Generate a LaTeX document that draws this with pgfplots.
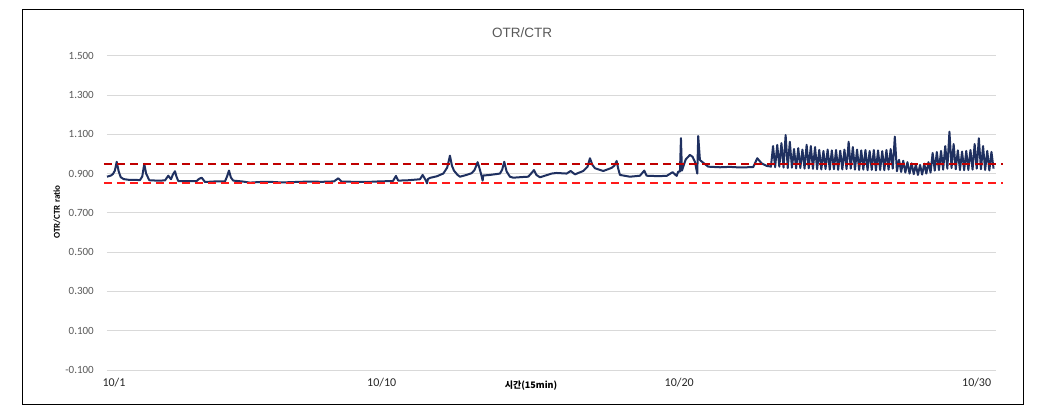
\documentclass[border=0pt]{standalone}
\usepackage{pgfplots}
\pgfplotsset{compat=1.18}
\usepackage{fontspec}
\setmainfont{Carlito}
\newfontfamily\titlefont{Liberation Sans}
\newfontfamily\kr{Noto Sans CJK KR}
\definecolor{navy}{HTML}{1F3060}
\definecolor{lbl}{HTML}{595959}
\definecolor{grid}{HTML}{D9D9D9}
\definecolor{dred}{HTML}{C00000}
\definecolor{bred}{HTML}{FF1A1A}
\begin{document}
\begin{tikzpicture}
\useasboundingbox (0pt,0pt) rectangle (1045pt,415pt);
\fill[white] (0pt,0pt) rectangle (1045pt,415pt);
\begin{axis}[
  at={(107pt,45pt)}, anchor=south west,
  scale only axis, width=889pt, height=314.3pt,
  xmin=-0.235, xmax=29.65, ymin=-0.1, ymax=1.5,
  clip=false,
  axis line style={draw=none},
  tick style={draw=none},
  ymajorgrids, major grid style={draw=grid, line width=0.9pt},
  ytick={-0.1,0.1,0.3,0.5,0.7,0.9,1.1,1.3,1.5},
  /pgf/number format/assume math mode=true,
  yticklabel={\pgfmathprintnumber[fixed,fixed zerofill,precision=3]{\tick}},
  yticklabel style={anchor=east, inner sep=0pt, xshift=-13pt, font=\fontsize{11}{11}\selectfont, text=lbl},
  xtick={0,9,19,29}, xticklabels={10/1,10/10,10/20,10/30},
  xticklabel style={anchor=center, inner sep=0pt, yshift=-12.5pt, font=\fontsize{12}{12}\selectfont, text=black!85},
]
\addplot[navy, line width=2pt, line join=round] coordinates {
(-0.235,0.884) (-0.1,0.890) (-0.034,0.898) (0.03,0.915) (0.091,0.960) (0.16,0.910) (0.225,0.882) (0.32,0.872) (0.5,0.868) (0.874,0.867)
(0.95,0.885) (1.018,0.949) (1.08,0.900) (1.187,0.866) (1.45,0.864) (1.714,0.865) (1.825,0.889) (1.916,0.871)
(1.98,0.895) (2.050,0.912) (2.1,0.885) (2.161,0.862) (2.5,0.861) (2.780,0.862) (2.86,0.873) (2.948,0.879) (3.059,0.857)
(3.4,0.860) (3.731,0.860) (3.80,0.885) (3.866,0.915) (3.93,0.880) (4.010,0.864) (4.3,0.860) (4.571,0.854)
(4.9,0.857) (5.244,0.858) (5.6,0.855) (5.916,0.856) (6.25,0.858) (6.588,0.859)
(7.0,0.858) (7.395,0.860) (7.540,0.876) (7.654,0.859) (8.1,0.858) (8.494,0.857)
(8.9,0.860) (9.378,0.862) (9.479,0.888) (9.556,0.864) (9.9,0.866) (10.286,0.871)
(10.376,0.893) (10.487,0.864) (10.521,0.850) (10.555,0.872) (10.622,0.878)
(10.85,0.886) (11.069,0.900) (11.2,0.930) (11.294,0.991) (11.36,0.940) (11.429,0.915) (11.55,0.893) (11.630,0.884)
(11.85,0.893) (12.024,0.902) (12.12,0.918) (12.225,0.958) (12.29,0.925) (12.336,0.900) (12.393,0.864)
(12.413,0.890) (12.639,0.893) (12.975,0.900) (13.05,0.920) (13.119,0.960) (13.2,0.910) (13.311,0.884)
(13.422,0.879) (13.7,0.882) (13.926,0.884) (14.05,0.905) (14.118,0.918) (14.2,0.893) (14.319,0.881)
(14.713,0.900) (14.881,0.903) (15.217,0.900) (15.351,0.913) (15.496,0.896)
(15.775,0.913) (15.92,0.935) (16.000,0.978) (16.08,0.945) (16.168,0.927) (16.447,0.913) (16.729,0.929)
(16.82,0.940) (16.897,0.964) (16.95,0.925) (17.008,0.893) (17.345,0.884) (17.681,0.889) (17.825,0.915)
(17.906,0.889) (18.25,0.887) (18.578,0.888) (18.780,0.907) (18.914,0.888)
(18.968,0.910) (19.025,0.910) (19.059,1.080) (19.092,0.915) (19.136,0.935)
(19.22,0.972) (19.361,0.995) (19.45,0.985) (19.529,0.960) (19.607,0.900) (19.640,1.091) (19.697,0.969)
(19.808,0.955) (19.976,0.935) (20.370,0.932) (20.706,0.934) (21.042,0.931)
(21.489,0.933) (21.624,0.978) (21.771,0.952) (21.939,0.939) (22.027,0.937)
(22.084,0.935) (22.155,1.040) (22.225,0.932) (22.296,1.046) (22.366,0.935)
(22.437,1.055) (22.508,0.930) (22.578,1.096) (22.649,0.928) (22.719,1.062)
(22.790,0.930) (22.861,1.025) (22.931,0.926) (23.002,1.029) (23.072,0.928)
(23.143,1.022) (23.214,0.925) (23.284,1.046) (23.355,0.927) (23.425,1.040)
(23.496,0.924) (23.567,1.035) (23.637,0.922) (23.708,1.020) (23.778,0.921)
(23.849,1.015) (23.920,0.923) (23.990,1.022) (24.061,0.920) (24.131,1.018)
(24.202,0.922) (24.273,1.020) (24.343,0.919) (24.414,1.016) (24.484,0.921)
(24.555,1.022) (24.626,0.923) (24.696,1.062) (24.767,0.925) (24.837,1.035)
(24.908,0.920) (24.979,1.022) (25.049,0.918) (25.120,1.018) (25.190,0.920)
(25.261,1.020) (25.332,0.917) (25.402,1.015) (25.473,0.919) (25.543,1.020)
(25.614,0.916) (25.685,1.018) (25.755,0.918) (25.826,1.014) (25.896,0.917)
(25.967,1.020) (26.038,0.920) (26.108,1.025) (26.179,0.925) (26.249,1.088)
(26.320,0.912) (26.391,0.970) (26.461,0.908) (26.532,0.965) (26.602,0.905)
(26.673,0.958) (26.744,0.900) (26.814,0.952) (26.885,0.897) (26.955,0.946)
(27.026,0.893) (27.097,0.944) (27.167,0.895) (27.238,0.950) (27.308,0.900)
(27.379,0.958) (27.450,0.905) (27.520,1.005) (27.591,0.915) (27.661,1.010)
(27.732,0.918) (27.803,1.015) (27.873,0.920) (27.944,1.040) (28.014,0.925)
(28.085,1.113) (28.156,0.928) (28.226,1.050) (28.297,0.922) (28.367,1.018)
(28.438,0.918) (28.509,1.012) (28.579,0.917) (28.650,1.015) (28.720,0.918)
(28.791,1.020) (28.862,0.920) (28.932,1.050) (29.003,0.925) (29.073,1.080)
(29.144,0.922) (29.215,1.040) (29.285,0.918) (29.356,1.015) (29.426,0.916)
(29.497,1.010) (29.568,0.925)
};
\addplot[dred, line width=1.8pt, dash pattern=on 8pt off 5pt] coordinates {(-0.336,0.95) (29.88,0.95)};
\addplot[bred, line width=1.8pt, dash pattern=on 8pt off 5pt] coordinates {(-0.336,0.85) (29.88,0.85)};
\end{axis}
\draw[black, line width=1pt] (22pt,10pt) rectangle (1023pt,405pt);
\node[text=lbl, font=\titlefont\fontsize{13.5}{13.5}\selectfont] at (522pt,382pt) {OTR/CTR};
\node[rotate=90, font=\bfseries\fontsize{9}{9}\selectfont] at (57pt,203pt) {OTR/CTR ratio};
\node[font=\kr\bfseries\fontsize{9}{9}\selectfont] at (531pt,29pt) {시간(15min)};
\end{tikzpicture}
\end{document}
